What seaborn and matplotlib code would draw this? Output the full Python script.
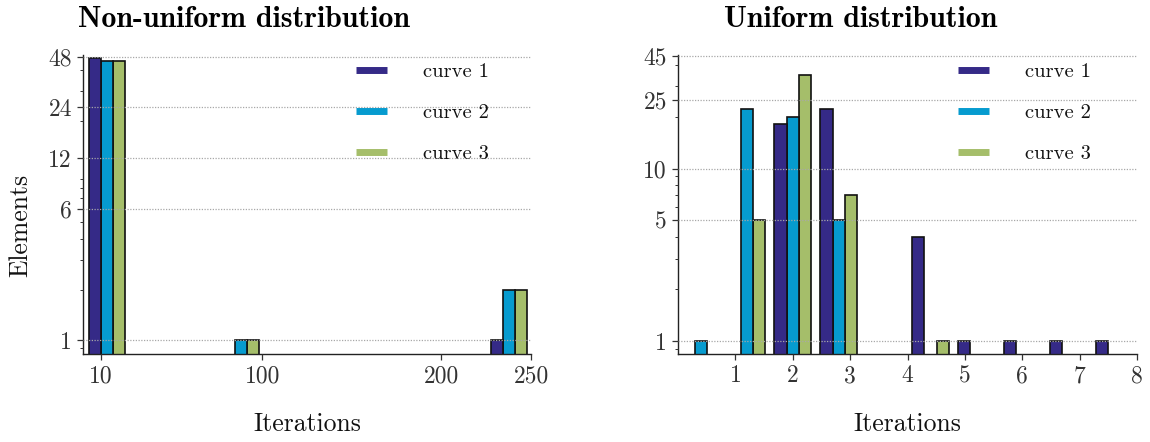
import numpy as np
import pandas as pd
import matplotlib
matplotlib.use("Agg")
import matplotlib.pyplot as plt
from matplotlib.lines import Line2D
from matplotlib.ticker import FixedLocator, FixedFormatter, LogLocator, NullFormatter
import seaborn as sns

# ---- data: counts per histogram bin -------------------------------------
curves = ["curve 1", "curve 2", "curve 3"]
colors = ["#352A87", "#069BCF", "#A5BE6A"]

# Non-uniform distribution: 10 bins spanning iterations 1..250
nonuni_c1 = [47, 0, 0, 0, 0, 0, 0, 0, 0, 1]
nonuni_c2 = [45, 0, 0, 1, 0, 0, 0, 0, 0, 2]
nonuni_c3 = [45, 0, 0, 1, 0, 0, 0, 0, 0, 2]

# Uniform distribution: 10 bins spanning iterations 0..8
uni_c1 = [0, 0, 18, 22, 0, 4, 1, 1, 1, 1]
uni_c2 = [1, 22, 20, 5, 0, 0, 0, 0, 0, 0]
uni_c3 = [0, 5, 35, 7, 0, 1, 0, 0, 0, 0]

nonuni_range = (1, 250)
uni_range = (0, 8)
n_bins = 10

nonuni_xticks = [10, 100, 200, 250]
uni_xticks = [1, 2, 3, 4, 5, 6, 7, 8]
nonuni_yticks = [1, 6, 12, 24, 48]
uni_yticks = [1, 5, 10, 25, 45]


def long_frame(edges, series):
    centers = (edges[:-1] + edges[1:]) / 2
    rows = []
    for name, counts in zip(curves, series):
        for c, n in zip(centers, counts):
            rows.append({"iter": c, "count": n, "curve": name})
    return pd.DataFrame(rows)


sns.set_style("ticks")
plt.rcParams.update({
    "font.family": "serif",
    "font.serif": ["cmr10", "DejaVu Serif"],
    "mathtext.fontset": "cm",
    "axes.formatter.use_mathtext": True,
    "axes.unicode_minus": False,
    "axes.edgecolor": "#222222",
    "axes.linewidth": 1.0,
    "text.color": "#111111",
    "axes.labelcolor": "#111111",
    "xtick.color": "#333333",
    "ytick.color": "#333333",
    "xtick.labelcolor": "#333333",
    "ytick.labelcolor": "#333333",
})

fig = plt.figure(figsize=(11.5, 4.42), dpi=100)
ax_l = fig.add_axes([0.0722, 0.199, 0.3896, 0.6765])
ax_r = fig.add_axes([0.5896, 0.199, 0.3991, 0.6765])

panels = [
    (ax_l, nonuni_range, [nonuni_c1, nonuni_c2, nonuni_c3], nonuni_xticks,
     nonuni_yticks, (0.83, 49), "Non-uniform distribution", 0.36),
    (ax_r, uni_range, [uni_c1, uni_c2, uni_c3], uni_xticks,
     uni_yticks, (0.84, 45.5), "Uniform distribution", 0.397),
]

for ax, rng, series, xt, yt, ylim, title, tx in panels:
    edges = np.linspace(rng[0], rng[1], n_bins + 1)
    df = long_frame(edges, series)
    sns.histplot(
        data=df, x="iter", weights="count", hue="curve", hue_order=curves,
        palette=colors, bins=n_bins, binrange=rng, multiple="dodge",
        shrink=0.8, alpha=1.0, edgecolor="#111111", linewidth=1.2,
        legend=False, ax=ax,
    )
    ax.set_yscale("log")
    ax.set_ylim(*ylim)
    ax.set_xlim(0, rng[1])

    ax.yaxis.set_major_locator(FixedLocator(yt))
    ax.yaxis.set_major_formatter(FixedFormatter([str(v) for v in yt]))
    ax.yaxis.set_minor_locator(LogLocator(base=10, subs=np.arange(2, 10)))
    ax.yaxis.set_minor_formatter(NullFormatter())
    ax.xaxis.set_major_locator(FixedLocator(xt))
    ax.xaxis.set_major_formatter(FixedFormatter([str(v) for v in xt]))

    ax.tick_params(axis="both", which="major", labelsize=17, length=4,
                   width=0.9, pad=4)
    ax.tick_params(axis="y", which="minor", length=2.5, width=0.7)
    # dotted guide lines drawn over the bars
    ax.grid(axis="y", which="major", linestyle=(0, (1, 1.2)),
            color="#a8a8a8", linewidth=0.9)
    ax.set_axisbelow(False)
    sns.despine(ax=ax)

    ax.set_xlabel("Iterations", fontsize=18.5)
    ax.xaxis.set_label_coords(0.5, -0.195)
    ax.set_ylabel("")
    ax.set_title(title, fontfamily="cmb10", fontsize=21.5, x=tx, pad=20,
                 color="black")

    handles = [Line2D([], [], color=c, linewidth=5, solid_capstyle="butt")
               for c in colors]
    ax.legend(handles, curves, loc="upper left", bbox_to_anchor=(0.61, 0.975),
              frameon=False, fontsize=14.8, handlelength=1.5,
              handletextpad=1.75, labelspacing=1.1, borderaxespad=0,
              borderpad=0)

ax_l.set_ylabel("Elements", fontsize=18.5)
ax_l.yaxis.set_label_coords(-0.113, 0.43)

fig.savefig("out.png", dpi=100)
